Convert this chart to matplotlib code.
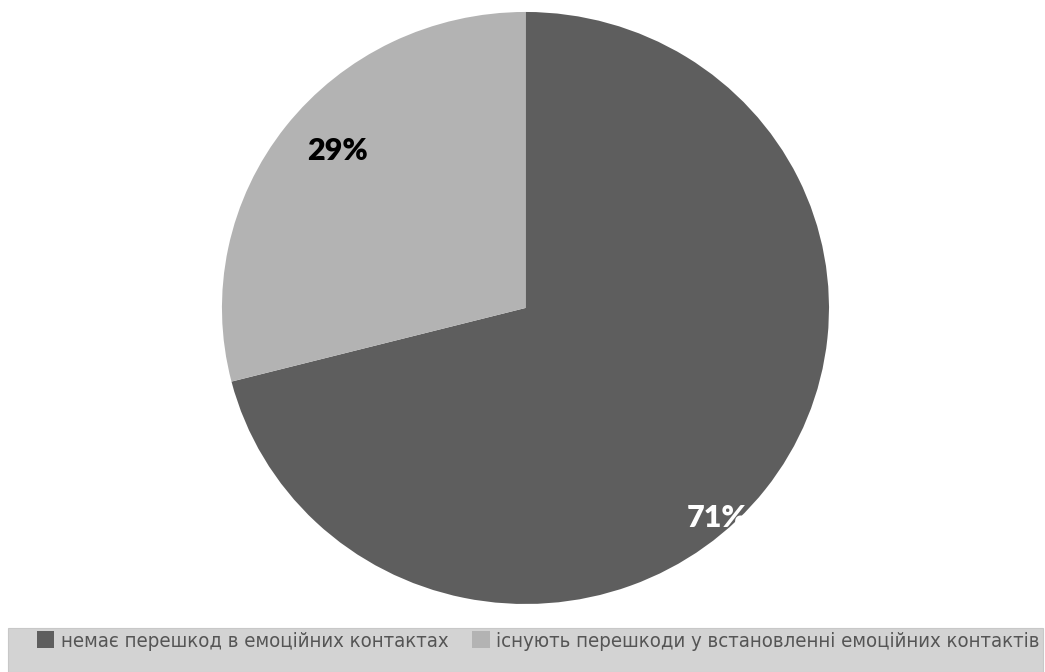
import matplotlib.pyplot as plt
from matplotlib.patches import Rectangle, Patch

labels = ['немає перешкод в емоційних контактах',
          'існують перешкоди у встановленні емоційних контактів']
shares = [71, 29]
colors = ['#5e5e5e', '#b3b3b3']
label_colors = ['white', 'black']

fig = plt.figure(figsize=(10.45, 6.72), dpi=100)
ax = fig.add_axes([0.2124, 0.1012, 0.5809, 0.881])

wedges, texts, autotexts = ax.pie(
    shares, colors=colors, startangle=90, counterclock=False,
    autopct='%d%%', pctdistance=0.82, radius=1.0,
    wedgeprops=dict(linewidth=0))
ax.set_xlim(-1, 1)
ax.set_ylim(-1, 1)
ax.set_aspect('auto')

# move the percentages to where they sit on the slices
autotexts[0].set_position((0.63, -0.71))
autotexts[1].set_position((-0.62, 0.53))
for t, c in zip(autotexts, label_colors):
    t.set_color(c)
    t.set_fontsize(22)
    t.set_fontweight('heavy')
    t.set_family(['Lato', 'DejaVu Sans'])

# grey legend band along the bottom
fig.patches.append(Rectangle((0.0077, 0.0), 0.99, 0.0655, transform=fig.transFigure,
                             facecolor='#d3d3d3', edgecolor='#c8c8c8', linewidth=0.8))
handles = [Patch(facecolor=c, edgecolor='none') for c in colors]
fig.legend(handles, labels, loc='center left', bbox_to_anchor=(0.035, 0.046),
           ncol=2, frameon=False, borderpad=0, handlelength=0.88, handleheight=0.88,
           handletextpad=0.3, columnspacing=1.2, borderaxespad=0,
           prop={'family': 'DejaVu Sans', 'stretch': 'condensed', 'size': 14.6},
           labelcolor='#555555')

fig.savefig('out.png', dpi=100)
